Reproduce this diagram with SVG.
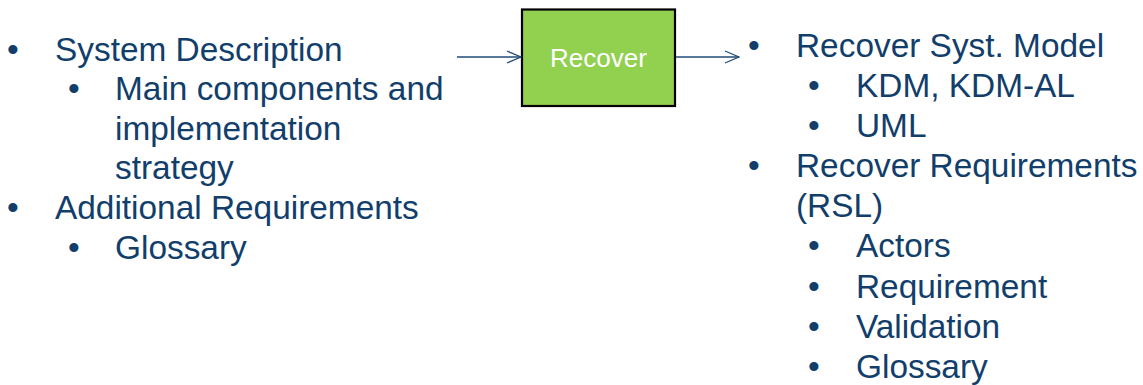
<svg xmlns="http://www.w3.org/2000/svg" width="1143" height="385" viewBox="0 0 1143 385">
  <style>
    .t { font-family: "Liberation Sans", Arial, sans-serif; font-size: 33.4px; fill: #123E6B; }
    .lbl { font-family: "Liberation Sans", Arial, sans-serif; font-size: 26px; fill: #FFFFFF; }
    .conn { stroke: #1F4A7A; stroke-width: 1.3; fill: none; }
  </style>
  <defs>
    <marker id="open" markerWidth="16" markerHeight="14" refX="15" refY="7" orient="auto" markerUnits="userSpaceOnUse">
      <path d="M1,1 L15,7 L1,13" fill="none" stroke="#1F4A7A" stroke-width="1.3"/>
    </marker>
  </defs>

  <!-- inputs -->
  <g id="inputs">
    <text class="t" x="7" y="61">•</text><text class="t" x="55" y="61">System Description</text>
    <text class="t" x="68" y="100">•</text><text class="t" x="115" y="100">Main components and</text>
    <text class="t" x="115" y="140">implementation</text>
    <text class="t" x="115" y="179">strategy</text>
    <text class="t" x="7" y="219">•</text><text class="t" x="55" y="219">Additional Requirements</text>
    <text class="t" x="68" y="259">•</text><text class="t" x="115" y="259">Glossary</text>
  </g>

  <!-- process -->
  <g id="recover">
    <rect x="522" y="9.5" width="153" height="96.5" fill="#92D050" stroke="#000000" stroke-width="2.2"/>
    <text class="lbl" x="598.5" y="66.5" text-anchor="middle">Recover</text>
  </g>

  <!-- outputs -->
  <g id="outputs">
    <text class="t" x="748" y="57">•</text><text class="t" x="796" y="57">Recover Syst. Model</text>
    <text class="t" x="808" y="97">•</text><text class="t" x="856" y="97">KDM, KDM-AL</text>
    <text class="t" x="808" y="137">•</text><text class="t" x="856" y="137">UML</text>
    <text class="t" x="748" y="177">•</text><text class="t" x="796" y="177">Recover Requirements</text>
    <text class="t" x="796" y="217">(RSL)</text>
    <text class="t" x="808" y="257">•</text><text class="t" x="856" y="257">Actors</text>
    <text class="t" x="808" y="298">•</text><text class="t" x="856" y="298">Requirement</text>
    <text class="t" x="808" y="338">•</text><text class="t" x="856" y="338">Validation</text>
    <text class="t" x="808" y="378">•</text><text class="t" x="856" y="378">Glossary</text>
  </g>

  <g id="connectors">
    <line class="conn" x1="457" y1="57" x2="521" y2="57" marker-end="url(#open)"/>
    <line class="conn" x1="676" y1="57" x2="739" y2="57" marker-end="url(#open)"/>
  </g>
</svg>
